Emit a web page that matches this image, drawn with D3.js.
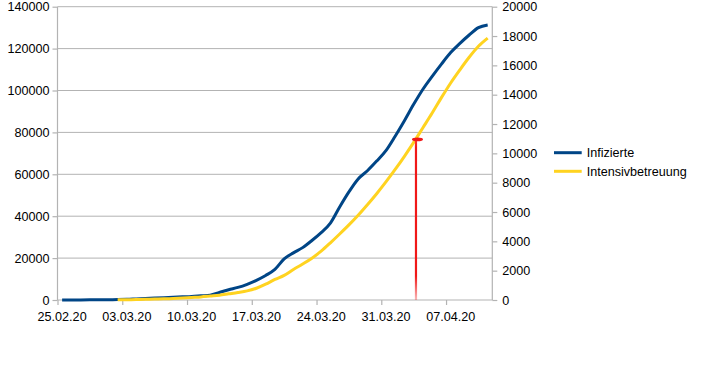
<!DOCTYPE html>
<html>
<head>
<meta charset="utf-8">
<script src="https://cdn.jsdelivr.net/npm/d3@7"></script>
<style>
  body { margin: 0; background: #fff; }
  svg text { font-family: "Liberation Sans", Arial, sans-serif; font-size: 12.6px; fill: #000; }
</style>
</head>
<body>
<div id="chart"></div>
<script>
// days 25.02.20 .. 11.04.20, one category per day
var dates = ["25.02.20","26.02.20","27.02.20","28.02.20","29.02.20","01.03.20","02.03.20",
  "03.03.20","04.03.20","05.03.20","06.03.20","07.03.20","08.03.20","09.03.20",
  "10.03.20","11.03.20","12.03.20","13.03.20","14.03.20","15.03.20","16.03.20",
  "17.03.20","18.03.20","19.03.20","20.03.20","21.03.20","22.03.20","23.03.20",
  "24.03.20","25.03.20","26.03.20","27.03.20","28.03.20","29.03.20","30.03.20",
  "31.03.20","01.04.20","02.04.20","03.04.20","04.04.20","05.04.20","06.04.20",
  "07.04.20","08.04.20","09.04.20","10.04.20","11.04.20"];

// left axis
var infizierte = [20, 30, 40, 60, 100, 150, 200,
  300, 500, 700, 900, 1100, 1300, 1500,
  1700, 2000, 2300, 3600, 4900, 6000, 7500,
  9400, 11700, 14600, 19600, 22500, 25000, 28400,
  32200, 36700, 44400, 51600, 57800, 61700, 66300,
  71300, 78200, 85600, 93400, 100600, 106750, 112600,
  118100, 122500, 126500, 130000, 131300];

// right axis, starts 02.03.20
var intensiv = [null, null, null, null, null, null, 10,
  20, 30, 45, 60, 80, 100, 130,
  170, 210, 270, 330, 420, 510, 620,
  800, 1080, 1400, 1680, 2080, 2450, 2850,
  3330, 3900, 4500, 5120, 5780, 6500, 7250,
  8050, 8900, 9800, 10750, 11750, 12750, 13800,
  14800, 15700, 16550, 17300, 17860];

var leftTicks = [0, 20000, 40000, 60000, 80000, 100000, 120000, 140000];
var rightTicks = [0, 2000, 4000, 6000, 8000, 10000, 12000, 14000, 16000, 18000, 20000];
var labelEvery = 7;

// hand drawn red marker (category index, right axis value)
var markerIdx = 38.25;
var markerValue = 10950;

var W = 704, H = 384;
var pLeft = 57.5, pRight = 492.3, pTop = 6.7, pBottom = 300;

var svg = d3.select("#chart").append("svg")
  .attr("width", W)
  .attr("height", H);

var x = d3.scaleLinear()
  .domain([-0.5, dates.length - 0.5])
  .range([pLeft, pRight]);

var yL = d3.scaleLinear().domain([0, 140000]).range([pBottom, pTop]);
var yR = d3.scaleLinear().domain([0, 20000]).range([pBottom, pTop]);

// grid
svg.append("g")
  .selectAll("line")
  .data(leftTicks.slice(1))
  .enter()
  .append("line")
  .attr("x1", pLeft).attr("x2", pRight)
  .attr("y1", function(d) { return yL(d); })
  .attr("y2", function(d) { return yL(d); })
  .attr("stroke", "#b3b3b3")
  .attr("stroke-width", 1);

// left axis
var axL = svg.append("g")
  .attr("transform", "translate(" + pLeft + ",0)")
  .call(d3.axisLeft(yL).tickValues(leftTicks).tickSize(5).tickPadding(3).tickFormat(d3.format("d")));

// right axis
var axR = svg.append("g")
  .attr("transform", "translate(" + pRight + ",0)")
  .call(d3.axisRight(yR).tickValues(rightTicks).tickSize(5).tickPadding(5).tickFormat(d3.format("d")));

// x axis: ticks on category boundaries, labels at centres
var xTickIdx = d3.range(0, dates.length, labelEvery);
var axX = svg.append("g")
  .attr("transform", "translate(0," + pBottom + ")")
  .call(d3.axisBottom(x)
    .tickValues(xTickIdx.map(function(i) { return i - 0.5; }))
    .tickSize(5)
    .tickFormat(""));

axX.selectAll(".lbl")
  .data(xTickIdx)
  .enter()
  .append("text")
  .attr("class", "lbl")
  .attr("x", function(i) { return x(i); })
  .attr("y", 20.5)
  .attr("text-anchor", "middle")
  .text(function(i) { return dates[i]; });

[axL, axR, axX].forEach(function(a) {
  a.select(".domain").attr("stroke", "#b3b3b3").attr("stroke-width", 1.2);
  a.selectAll(".tick line").attr("stroke", "#b3b3b3").attr("stroke-width", 1.2);
  a.selectAll("text").attr("font-family", null).attr("font-size", null).attr("fill", "#000");
});
axX.select(".domain").attr("d", "M" + pLeft + ",0H" + pRight);
axL.select(".domain").attr("d", "M0," + pBottom + "V" + pTop);
axR.select(".domain").attr("d", "M0," + pBottom + "V" + pTop);

// lines
var blueLine = d3.line()
  .x(function(d, i) { return x(i); })
  .y(function(d) { return yL(d); })
  .curve(d3.curveMonotoneX);

var yellowLine = d3.line()
  .defined(function(d) { return d !== null; })
  .x(function(d, i) { return x(i); })
  .y(function(d) { return yR(d); })
  .curve(d3.curveMonotoneX);

svg.append("path")
  .attr("d", blueLine(infizierte))
  .attr("fill", "none")
  .attr("stroke", "#004586")
  .attr("stroke-width", 3)
  .attr("stroke-linejoin", "round");

svg.append("path")
  .attr("d", yellowLine(intensiv))
  .attr("fill", "none")
  .attr("stroke", "#ffd320")
  .attr("stroke-width", 3)
  .attr("stroke-linejoin", "round");

// red marker
var grad = svg.append("defs").append("linearGradient")
  .attr("id", "redfade")
  .attr("gradientUnits", "userSpaceOnUse")
  .attr("x1", 0).attr("x2", 0)
  .attr("y1", yR(markerValue)).attr("y2", pBottom);
grad.append("stop").attr("offset", "0").attr("stop-color", "#ff3b3b");
grad.append("stop").attr("offset", "0.05").attr("stop-color", "#f01818");
grad.append("stop").attr("offset", "0.85").attr("stop-color", "#f01818");
grad.append("stop").attr("offset", "1").attr("stop-color", "#f01818").attr("stop-opacity", 0.3);

svg.append("line")
  .attr("x1", x(markerIdx)).attr("x2", x(markerIdx))
  .attr("y1", yR(markerValue)).attr("y2", pBottom)
  .attr("stroke", "url(#redfade)")
  .attr("stroke-width", 2.2);

svg.append("ellipse")
  .attr("cx", x(markerIdx) + 1.5)
  .attr("cy", yR(markerValue))
  .attr("rx", 5.5)
  .attr("ry", 1.8)
  .attr("fill", "#f01818");

// legend
var legend = svg.append("g").attr("transform", "translate(554,0)");
var legItems = [
  { name: "Infizierte", color: "#004586" },
  { name: "Intensivbetreuung", color: "#ffd320" }
];
legItems.forEach(function(d, i) {
  var ly = 152.7 + i * 18.6;
  legend.append("line")
    .attr("x1", 0).attr("x2", 27.7)
    .attr("y1", ly).attr("y2", ly)
    .attr("stroke", d.color)
    .attr("stroke-width", 3);
  legend.append("text")
    .attr("x", 32.7)
    .attr("y", ly + 4.5)
    .text(d.name);
});
</script>
</body>
</html>
